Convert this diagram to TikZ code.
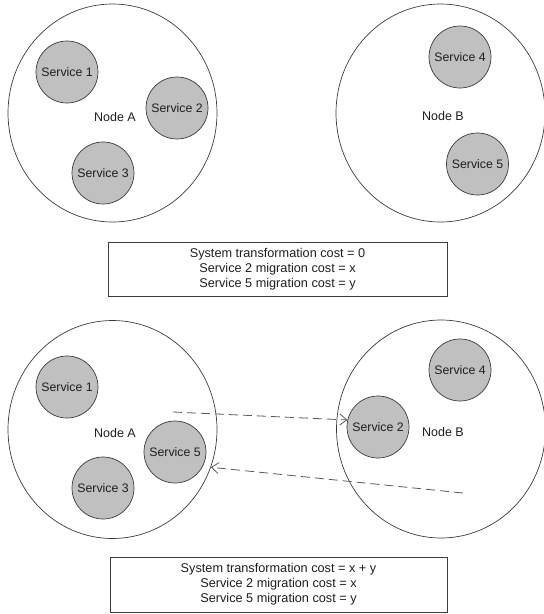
\documentclass[tikz,border=0pt]{standalone}
\usepackage{fontspec}
\setmainfont{Liberation Sans}
\usetikzlibrary{shapes.geometric,arrows.meta}
\definecolor{svcfill}{RGB}{192,192,192}
\definecolor{edge}{RGB}{60,60,60}
\definecolor{txt}{RGB}{30,30,30}
\begin{document}
\begin{tikzpicture}[x=1pt,y=-1pt,
  hostnode/.style={ellipse, draw=edge, line width=0.7pt, minimum width=209pt, minimum height=218pt, inner sep=0pt},
  svc/.style={circle, draw=edge, line width=0.7pt, fill=svcfill, minimum size=62pt, inner sep=0pt, text=txt, font=\fontsize{12.3}{14}\selectfont},
  lbl/.style={inner sep=0pt, text=txt, font=\fontsize{12.5}{14}\selectfont},
  costbox/.style={rectangle, draw=edge, line width=0.7pt, align=center, inner sep=0pt, text=txt, font=\fontsize{12.7}{15}\selectfont},
  migr/.style={draw=edge!85, line width=0.8pt, dash pattern=on 9pt off 5pt, -{Straight Barb[length=7pt,width=11pt]}}
]
\useasboundingbox (0,0) rectangle (544,614);
% top scenario
\node[hostnode] (nA1) at (112.5,113) {};
\node[hostnode] (nB1) at (440.5,113) {};
\node[lbl] (labA1) at (115,117) {Node A};
\node[lbl] (labB1) at (443,116) {Node B};
\node[svc] (S1a) at (67,72) {Service 1};
\node[svc] (S2a) at (177,108) {Service 2};
\node[svc] (S3a) at (103,173) {Service 3};
\node[svc] (S4a) at (460,57) {Service 4};
\node[svc] (S5a) at (477.5,164) {Service 5};
\node[costbox, minimum width=339pt, minimum height=54pt] (box1) at (277.5,269)
  {System transformation cost = 0\\Service 2 migration cost = x\\Service 5 migration cost = y};
% bottom scenario
\node[hostnode] (nA2) at (112.5,429.5) {};
\node[hostnode] (nB2) at (441,429) {};
\node[lbl] (labA2) at (115,433) {Node A};
\node[lbl] (labB2) at (443,432) {Node B};
\node[svc] (S1b) at (67,387) {Service 1};
\node[svc] (S5b) at (175,452) {Service 5};
\node[svc] (S3b) at (103,488) {Service 3};
\node[svc] (S4b) at (460,370) {Service 4};
\node[svc] (S2b) at (378,427) {Service 2};
\node[costbox, minimum width=337pt, minimum height=55pt] (box2) at (278.5,584.5)
  {System transformation cost = x + y\\Service 2 migration cost = x\\Service 5 migration cost = y};
% migrations
\coordinate (m1s) at (173,412);
\coordinate (m2s) at (463,493);
\draw[migr] (m1s) -- (S2b.167);
\draw[migr] (m2s) -- (nA2.-21);
\end{tikzpicture}
\end{document}
